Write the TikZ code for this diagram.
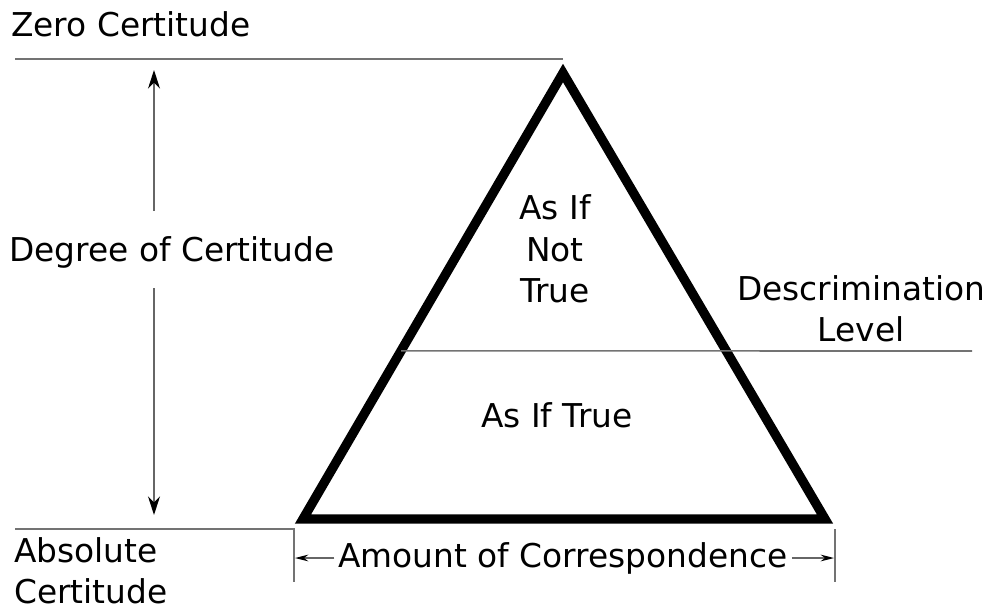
\documentclass[tikz,border=0pt]{standalone}
\usepackage{fontspec}
\setmainfont{DejaVu Sans}
\usetikzlibrary{arrows.meta,calc}

\tikzset{
  lbl/.style={font=\fontsize{24.6}{31}\selectfont, inner sep=0pt, align=center},
  thin line/.style={draw=black!55, line width=1.2pt},
  dimarrow/.style={draw=black!60, line width=1pt, -{Stealth[black, length=14pt, width=9pt]}},
  smallarrow/.style={draw=black!60, line width=1pt, -{Stealth[black, length=10pt, width=5pt]}}
}

\begin{document}
\begin{tikzpicture}[x=0.75pt, y=-0.75pt]
\useasboundingbox (0,0) rectangle (989,610);

% reference lines
\coordinate (zl) at (15,59);
\coordinate (zr) at (563,59);
\coordinate (al) at (15,529);
\coordinate (ar) at (295,529);
\draw[thin line] (zl) -- (zr);
\draw[thin line] (al) -- (ar);

% triangle
\coordinate (apex) at (563,73);
\coordinate (bl) at (303,519);
\coordinate (br) at (825,519);
\draw[line width=7pt, line join=miter] (apex) -- (bl) -- (br) -- cycle;

% descrimination level
\coordinate (dl) at ($(bl)!0.377!(apex)$);
\coordinate (dr) at (972,351);
\draw[thin line] (dl) -- (dr);

% labels
\node[lbl, anchor=west] (zero) at (11,24) {Zero Certitude};
\node[lbl] (degree) at (172,252) {Degree of Certitude};
\node[lbl, anchor=north west, align=left] (absolute) at (14,537) {Absolute\\Certitude};
\node[lbl] (notrue) at (555,249) {As If\\Not\\True};
\node[lbl] (istrue) at (557,415) {As If True};
\node[lbl] (descr) at (861,309) {Descrimination\\Level};
\node[lbl] (amount) at (563,558) {Amount of Correspondence};

% degree arrow
\coordinate (dtop) at (154,70);
\coordinate (dbot) at (154,515);
\draw[dimarrow] (154,211) -- (dtop);
\draw[dimarrow] (154,288) -- (dbot);

% amount dimension
\coordinate (tl) at (294,529);
\coordinate (tr) at (835,529);
\draw[thin line] (tl) -- (294,582);
\draw[thin line] (tr) -- (835,582);
\draw[smallarrow] ([xshift=-3pt]amount.west) -- (295,558);
\draw[smallarrow] ([xshift=3pt]amount.east) -- (834,558);
\end{tikzpicture}
\end{document}
